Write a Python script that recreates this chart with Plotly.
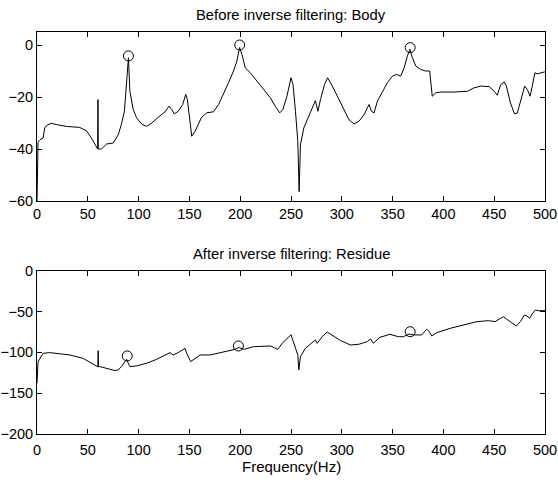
import plotly.graph_objects as go

# Top panel: "Before inverse filtering: Body"
body_freq = [0, 0.5, 1, 2, 3, 6, 7.6, 10, 14, 19, 29, 42, 48.7, 53.6, 57, 59.7, 60, 60.3,
             63.5, 68.4, 75, 80, 83, 86, 87.5, 89, 90, 91.4, 94.7, 98, 103, 108, 113,
             119.4, 126, 130, 132.6, 135, 139, 143.4, 146.4, 148, 150, 152.3, 155.6, 159,
             162, 167, 173.7, 178.7, 183.6, 188.5, 193.4, 196.7, 199.4, 201.7, 205, 210,
             216.5, 223, 229.7, 234.6, 238.9, 242, 246, 250, 252, 254.4, 256.7, 258,
             259.3, 262.6, 267.5, 272.5, 274, 276.5, 279, 283, 286, 290.7, 295.6, 302,
             307, 312, 317, 321.9, 326.8, 329.2, 331.8, 335, 340, 344.9, 349.8, 354, 358,
             361.3, 364.6, 367, 369.5, 372.8, 377.7, 382.6, 386.5, 387.5, 389, 392.5,
             397.4, 410.6, 423.7, 430, 436.8, 445, 450, 453, 456.5, 459.8, 462, 466, 470,
             472.8, 476, 480, 482.6, 485.3, 487.5, 490, 492.5, 496, 500]
body_db = [-60, -40, -37.5, -36.8, -36.4, -35.8, -31.9, -30.8, -30.1, -30.6, -31.3, -31.7,
           -33, -35.8, -38.4, -40, -21, -40,
           -40, -38.1, -37.7, -34.5, -30.6, -25.5, -17.8, -11.3, -4.9, -17.8, -24.8, -28,
           -30.4, -31.3, -30, -27.8, -25.7, -23.5, -24.8, -26.5, -25.5, -22.9, -19, -21,
           -26.8, -35.1, -33.2, -30, -27.8, -26.1, -25.7, -22.9, -19, -14.5, -10, -6.2,
           -1, -3.6, -8.8, -10.7, -13.9, -17.1, -20.3, -23.6, -26.1, -24.8, -19.7, -12.6,
           -15.2, -25.5, -37, -56.4, -38.4, -31.9, -27.4, -22.3, -21.4, -25.5, -21, -15.2,
           -12.6, -15.8, -19.7, -24.8, -28.7, -30.4, -29.3, -26.8, -22.9, -25.5, -26.1,
           -21.6, -17.8, -14.5, -12, -11.3, -12, -8.8, -4.2, -1.7, -4.9, -8.1, -9.4, -10,
           -10, -15.2, -19.7, -18.4, -18.1, -18.1, -17.8, -16.5, -15.8, -16, -17.8, -19.3,
           -15.2, -14.2, -15.8, -22.3, -26.5, -26.1, -21, -15.8, -17.1, -19.7, -15.8,
           -10.7, -11.1, -10.7, -10.3]
body_peak_freq = [90, 199.5, 367.3]
body_peak_db = [-4.2, 0, -1]

# Bottom panel: "After inverse filtering: Residue"
res_freq = [0, 0.5, 1, 2, 6, 12.5, 22.4, 32.2, 45.4, 53.6, 58.5, 59.9, 60.2, 60.5, 61.8,
            68.4, 76.6, 80, 83.2, 86.5, 88.2, 89.8, 91.4, 98, 108, 117.8, 127.6, 131, 134,
            139, 145.7, 147.4, 151.3, 155.6, 160.5, 170.4, 180.3, 190, 195, 198.5, 203.6,
            213.4, 229.9, 237, 241.3, 250, 253.7, 256.7, 257.7, 259.3, 264.2, 270.8, 274,
            275.8, 280.7, 285.6, 292.2, 298.8, 308.6, 316.8, 325, 328.3, 331, 337.5, 347.4,
            355.6, 360.5, 366.4, 370.4, 378.6, 383.5, 386.2, 388.5, 393.4, 406.6, 419.8,
            432.9, 444.4, 451, 456, 459.3, 462.6, 467.5, 471.8, 475.7, 479.7, 482.3, 484.9,
            487.2, 490.5, 493.8, 498.7, 500]
res_db = [-138, -120, -112, -109.3, -101.2, -100.3, -102, -103.2, -107.3, -113.3, -117.4,
          -117.8, -98, -117.8, -117.4, -119.5, -122.3, -121.5, -117.4, -111.3, -108.5,
          -113.3, -117.4, -116.6, -113.3, -108.5, -102, -100.3, -103.2, -100.3, -95,
          -101.2, -111.3, -107.3, -103.2, -103.2, -100.3, -97.1, -96.3, -94, -96.3, -93,
          -92.2, -96.3, -89, -78.4, -93, -103.2, -121.5, -105.2, -95, -88.1, -84.8, -88.9,
          -80.8, -75.1, -80.8, -85.6, -91, -90.1, -86.9, -83.6, -88.9, -81.6, -77.9,
          -80.8, -80.8, -77.5, -78.7, -78.7, -71.8, -74.6, -79.9, -75.9, -70.6, -66.5,
          -62.4, -61.2, -62.4, -58.4, -56.4, -59.6, -64.5, -67.8, -62.4, -54.3, -55.5,
          -58.4, -53.1, -48.2, -49, -49, -49]
res_peak_freq = [88.8, 198.2, 367.3]
res_peak_db = [-104.4, -92.2, -74.7]

x_ticks = [0, 50, 100, 150, 200, 250, 300, 350, 400, 450, 500]
top_y_ticks = [0, -20, -40, -60]
bottom_y_ticks = [0, -50, -100, -150, -200]

line_style = dict(color="black", width=1)
marker_style = dict(symbol="circle-open", size=10, color="black", line=dict(width=1, color="black"))

fig = go.Figure()
fig.add_trace(go.Scatter(x=body_freq, y=body_db, mode="lines", line=line_style,
                         xaxis="x", yaxis="y", showlegend=False))
fig.add_trace(go.Scatter(x=body_peak_freq, y=body_peak_db, mode="markers", marker=marker_style,
                         xaxis="x", yaxis="y", showlegend=False))
fig.add_trace(go.Scatter(x=res_freq, y=res_db, mode="lines", line=line_style,
                         xaxis="x2", yaxis="y2", showlegend=False))
fig.add_trace(go.Scatter(x=res_peak_freq, y=res_peak_db, mode="markers", marker=marker_style,
                         xaxis="x2", yaxis="y2", showlegend=False))

text_font = "Liberation Sans, Arial, sans-serif"
tick_font = dict(family=text_font, size=14.5, color="black")
axis_common = dict(showline=True, linecolor="black", linewidth=1, mirror="ticks",
                   ticks="inside", ticklen=5, tickcolor="black", showgrid=False,
                   zeroline=False, tickfont=tick_font, automargin=False)

fig.update_layout(
    width=558, height=480,
    margin=dict(l=37, r=13, t=32, b=46),
    paper_bgcolor="white", plot_bgcolor="white",
    hovermode=False,
    xaxis=dict(domain=[0, 1], anchor="y", range=[0, 500], tickvals=x_ticks, **axis_common),
    yaxis=dict(domain=[0.5796, 1], anchor="x", range=[-60, 5], tickvals=top_y_ticks, **axis_common),
    xaxis2=dict(domain=[0, 1], anchor="y2", range=[0, 500], tickvals=x_ticks,
                ticklabelstandoff=3, **axis_common),
    yaxis2=dict(domain=[0, 0.4062], anchor="x2", range=[-200, 0], tickvals=bottom_y_ticks, **axis_common),
    annotations=[
        dict(text="Before inverse filtering: Body", x=0.5, y=1, xref="paper", yref="paper",
             yanchor="middle", yshift=17, showarrow=False,
             font=dict(family=text_font, size=14.8, color="black")),
        dict(text="After inverse filtering: Residue", x=0.5, y=0.4062, xref="paper", yref="paper",
             yanchor="middle", yshift=17, showarrow=False,
             font=dict(family=text_font, size=14.8, color="black")),
        dict(text="Frequency(Hz)", x=0.5, y=0, xref="paper", yref="paper",
             yanchor="middle", yshift=-32, showarrow=False,
             font=dict(family=text_font, size=15, color="black")),
    ],
)

# Remove the browser's default page margin so the figure fills the 558x480 window.
page_fix = ("document.body.style.margin='0';"
            "document.documentElement.style.overflow='hidden';"
            "document.body.style.overflow='hidden';")
fig.write_html("out.html", post_script=page_fix, config={"displayModeBar": False})
